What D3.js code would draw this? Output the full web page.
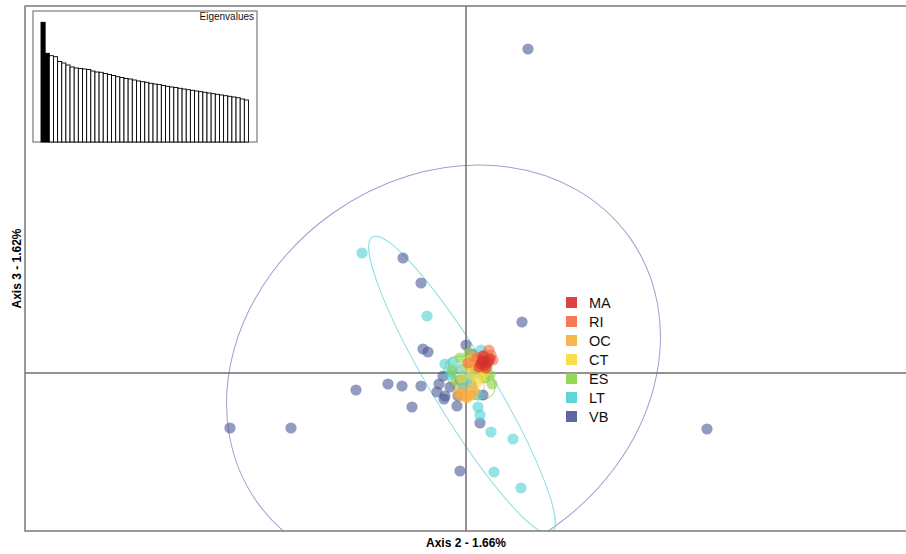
<!DOCTYPE html>
<html>
<head>
<meta charset="utf-8">
<script src="https://cdn.jsdelivr.net/npm/d3@7"></script>
<style>
    body { margin: 0; background: #fff; }
    svg { display: block; font-family: "Liberation Sans", Arial, sans-serif; }
</style>
</head>
<body>
<svg width="906" height="554"></svg>
<script>
// populations, legend order
const groups = ["MA", "RI", "OC", "CT", "ES", "LT", "VB"];
const groupColors = ["#d7302c", "#f46a45", "#f8ac3e", "#f9d83a", "#8ad244", "#4fd0d2", "#4a5896"];
const ellipseColors = ["#e36c66", "#f79a80", "#f7c47e", "#f3dc74", "#a9dd7c", "#8adfe0", "#9c9fcf"];

// individual scores [axis 2, axis 3]
const ptsMA = [[0.32, 0.26], [0.38, 0.16], [0.48, 0.28], [0.26, 0.12], [0.44, 0.22], [0.34, 0.34], [0.40, 0.10],
    [0.36, 0.22], [0.30, 0.18]];
const ptsRI = [[0.46, 0.46], [0.38, 0.36], [0.04, 0.20], [0.54, 0.26], [0.22, 0.30], [0.50, 0.36]];
const ptsOC = [[0.02, -0.46], [0.12, -0.28], [0.02, -0.50], [-0.16, -0.40], [0.28, 0.20], [0.18, -0.38],
    [-0.06, -0.34], [0.16, 0.32], [-0.10, -0.46], [0.10, -0.44], [0.20, 0.08]];
const ptsCT = [[0.28, 0.10], [0.12, -0.04], [0.02, 0.12], [0.22, -0.18], [0.38, 0.02], [0.08, 0.26], [-0.08, -0.10],
    [0.18, 0.18], [0.30, -0.06]];
const ptsES = [[0.52, -0.22], [0.48, -0.04], [-0.12, 0.30], [0.42, 0.12], [0.14, 0.10], [-0.28, 0.06], [0.38, -0.10],
    [0.06, 0.40], [-0.20, -0.16]];
const ptsLT = [[-2.08, 2.40], [-0.78, 1.14], [0.50, -1.18], [0.94, -1.32], [0.56, -1.98], [1.10, -2.30], [0.24, -0.68],
    [0.28, -0.84], [0.24, -0.44], [-0.42, 0.18], [-0.28, 0.02], [-0.10, 0.08], [0.00, -0.04], [0.22, 0.00],
    [0.10, -0.20], [-0.06, -0.24], [-0.32, -0.04], [-0.26, 0.22], [-0.06, -0.30], [0.04, -0.10], [0.30, 0.46]];
const ptsVB = [[1.24, 6.48], [-4.72, -1.10], [-3.50, -1.10], [4.82, -1.12], [1.12, 1.02], [-1.26, 2.30], [-0.90, 1.80],
    [-0.86, 0.48], [-0.76, 0.42], [0.00, 0.56], [-2.20, -0.34], [-1.56, -0.22], [-1.28, -0.26], [-0.90, -0.26],
    [-1.08, -0.68], [-0.46, -0.06], [-0.54, -0.22], [-0.58, -0.38], [-0.42, -0.46], [-0.44, -0.52], [-0.32, -0.28],
    [-0.12, -0.14], [-0.16, -0.46], [-0.18, -0.66], [0.28, -1.00], [-0.12, -1.96], [0.34, -0.44], [0.12, 0.38]];
const groupPoints = [ptsMA, ptsRI, ptsOC, ptsCT, ptsES, ptsLT, ptsVB];

// inertia ellipses: [centre x, centre y, half axis 1, half axis 2, angle in degrees]
const ellipses = [
    [0.36, 0.22, 0.14, 0.12, 0],
    [0.32, 0.26, 0.20, 0.16, 0],
    [0.06, -0.18, 0.36, 0.26, -50],
    [0.20, 0.02, 0.28, 0.20, -30],
    [0.08, -0.10, 0.56, 0.36, -35],
    [-0.08, -0.24, 3.46, 0.60, -58.8],
    [-0.45, 0.06, 4.57, 3.84, 35.4]
];

// eigenvalue screeplot
const eigenvalues = [119.7, 88.7, 86.3, 85.3, 80.5, 79, 77, 75, 74, 73.5, 73, 72.5, 71, 70, 69.7, 68.5, 67.5,
    66.5, 65.3, 64.5, 63.5, 63, 62, 61, 60.3, 59.7, 58.7, 58, 57.5, 56.5, 55.7, 55, 54.5, 53.7, 53, 52.3, 51.7,
    51, 50.3, 49.7, 49, 48.3, 47.7, 47, 46.3, 45.7, 45, 44.3, 43, 42];
const eigenShown = 2;

const xLabel = "Axis 2 - 1.66%";
const yLabel = "Axis 3 - 1.62%";

const svg = d3.select("svg");
const area = { left: 25, top: 6, bottom: 531, right: 920 };

const scX = d3.scaleLinear().domain([-8.82, 9.08]).range([area.left, area.right]);
const scY = d3.scaleLinear().domain([-3.16, 7.34]).range([area.bottom, area.top]);

function drawFrame() {
    svg.append("rect")
        .attr("x", area.left)
        .attr("y", area.top)
        .attr("width", area.right - area.left)
        .attr("height", area.bottom - area.top)
        .attr("fill", "none")
        .attr("stroke", "#7a7a7a")
        .attr("stroke-width", 1.5);
    svg.append("line")
        .attr("x1", scX(0)).attr("x2", scX(0))
        .attr("y1", area.top).attr("y2", area.bottom)
        .attr("stroke", "#6e6e6e").attr("stroke-width", 1.5);
    svg.append("line")
        .attr("x1", area.left).attr("x2", area.right)
        .attr("y1", scY(0)).attr("y2", scY(0))
        .attr("stroke", "#6e6e6e").attr("stroke-width", 1.5);
}

function drawEllipses() {
    const g = svg.append("g").attr("clip-path", "url(#plotClip)");
    // draw VB first so the small ones stay on top
    for (let i = ellipses.length - 1; i >= 0; i--) {
        const e = ellipses[i];
        g.append("ellipse")
            .attr("transform", `translate(${scX(e[0])}, ${scY(e[1])}) rotate(${-e[4]})`)
            .attr("rx", scX(e[2]) - scX(0))
            .attr("ry", scY(0) - scY(e[3]))
            .attr("fill", "none")
            .attr("stroke", ellipseColors[i])
            .attr("stroke-width", 1);
    }
}

function drawPoints() {
    const g = svg.append("g").attr("clip-path", "url(#plotClip)");
    for (let i = groupPoints.length - 1; i >= 0; i--) {
        g.selectAll(".dot-" + groups[i])
            .data(groupPoints[i])
            .enter()
            .append("circle")
            .attr("class", "dot-" + groups[i])
            .attr("cx", d => scX(d[0]))
            .attr("cy", d => scY(d[1]))
            .attr("r", 5.6)
            .attr("fill", groupColors[i])
            .attr("fill-opacity", 0.6);
    }
}

function drawLegend() {
    const g = svg.append("g").attr("transform", "translate(566, 297)");
    groups.forEach((name, i) => {
        g.append("rect")
            .attr("x", 0)
            .attr("y", i * 19)
            .attr("width", 11)
            .attr("height", 11)
            .attr("fill", groupColors[i])
            .attr("fill-opacity", 0.9);
        g.append("text")
            .attr("x", 23)
            .attr("y", i * 19 + 11)
            .attr("font-size", 14.5)
            .attr("fill", "#111")
            .text(name);
    });
}

function drawEigen() {
    const box = { x: 33, y: 11, w: 224, h: 131 };
    svg.append("rect")
        .attr("x", box.x).attr("y", box.y)
        .attr("width", box.w).attr("height", box.h)
        .attr("fill", "#fff")
        .attr("stroke", "#7a7a7a")
        .attr("stroke-width", 1.2);
    const sx = d3.scaleBand()
        .domain(d3.range(eigenvalues.length))
        .range([41, 248.5])
        .paddingInner(0);
    const sy = d3.scaleLinear()
        .domain([0, d3.max(eigenvalues)])
        .range([box.y + box.h, 22.3]);
    svg.append("g").selectAll("rect")
        .data(eigenvalues)
        .enter()
        .append("rect")
        .attr("x", (d, i) => sx(i))
        .attr("y", d => sy(d))
        .attr("width", sx.bandwidth())
        .attr("height", d => sy(0) - sy(d))
        .attr("fill", (d, i) => i < eigenShown ? "#000" : "#fff")
        .attr("stroke", "#000")
        .attr("stroke-width", 0.9);
    svg.append("text")
        .attr("x", box.x + box.w - 3)
        .attr("y", box.y + 9)
        .attr("text-anchor", "end")
        .attr("font-size", 10)
        .attr("fill", "#111")
        .text("Eigenvalues");
}

function drawLabels() {
    svg.append("text")
        .attr("x", scX(0))
        .attr("y", 547)
        .attr("text-anchor", "middle")
        .attr("font-size", 12)
        .attr("font-weight", "bold")
        .text(xLabel);
    svg.append("text")
        .attr("transform", `translate(21, ${(area.top + area.bottom) / 2}) rotate(-90)`)
        .attr("text-anchor", "middle")
        .attr("font-size", 12)
        .attr("font-weight", "bold")
        .text(yLabel);
}

svg.append("defs").append("clipPath").attr("id", "plotClip")
    .append("rect")
    .attr("x", area.left).attr("y", area.top)
    .attr("width", area.right - area.left).attr("height", area.bottom - area.top);

drawEllipses();
drawFrame();
drawPoints();
drawEigen();
drawLegend();
drawLabels();
</script>
</body>
</html>
